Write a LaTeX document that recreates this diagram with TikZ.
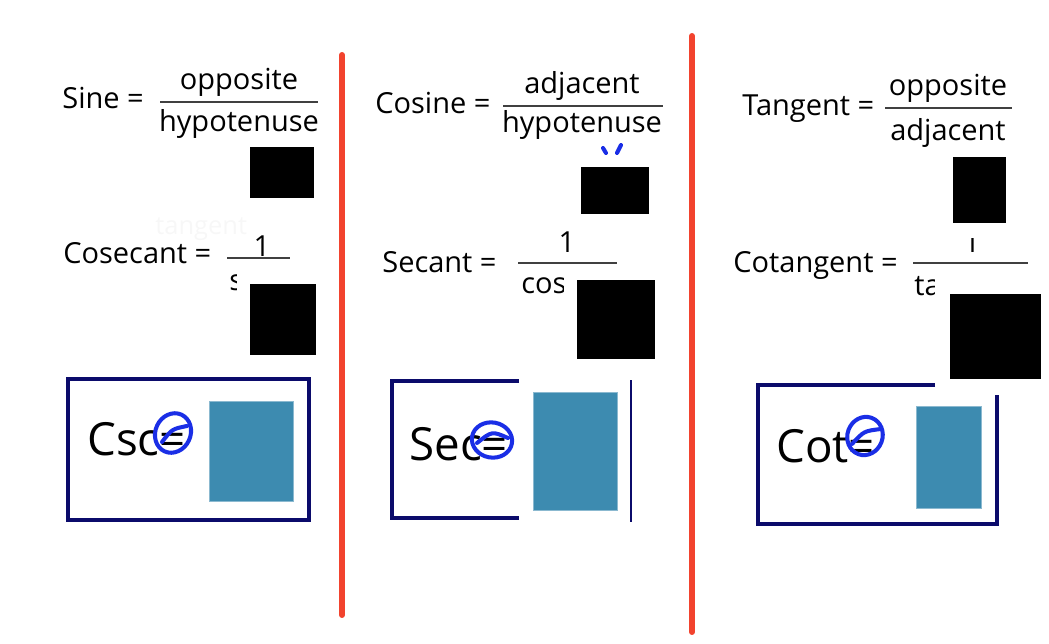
\documentclass[tikz,border=0pt]{standalone}
\usepackage{fontspec}
\setmainfont{Open Sans}
\usetikzlibrary{positioning}
\definecolor{divred}{HTML}{F2432E}
\definecolor{boxnavy}{HTML}{0B0B6B}
\definecolor{tileteal}{HTML}{3D8BB0}
\definecolor{penblue}{HTML}{1A2EE6}
\tikzset{
  ratio/.style={inner sep=0pt,font=\fontsize{16.5}{18}\selectfont},
  shortname/.style={inner sep=0pt,anchor=base west,font=\fontsize{26}{28}\selectfont},
  cover/.style={fill=black},
  tile/.style={fill=tileteal,draw=tileteal!60!white,line width=0.5pt},
  frame/.style={draw=boxnavy,line width=2.1pt},
  divider/.style={draw=divred,line width=3.4pt,line cap=round},
  theta/.style={draw=penblue,line width=2.3pt,line cap=round},
  bar/.style={line width=0.8pt,draw=black!75}
}

\begin{document}
\begin{tikzpicture}[x=0.02cm,y=-0.02cm]
\useasboundingbox (0,0) rectangle (1049,643);

% dividers
\draw[divider] (342,55) -- (342,615);
\draw[divider] (692,36) -- (692,632);

% sine / cosecant
\node[inner sep=0pt,anchor=base west,text=black!3,font=\fontsize{14.5}{16}\selectfont] (ghost) at (155,234) {tangent};
\node[ratio,anchor=base west] (sine) at (62,108) {Sine =};
\node[ratio,anchor=base] (sinetop) at (239,89) {opposite};
\node[ratio,anchor=base] (sinebot) at (239,131) {hypotenuse};
\draw[bar] (160,102) -- (318,102);
\node[ratio,anchor=base west] (cosec) at (63,263) {Cosecant =};
\draw[bar] (227,258) -- (290,258);
\node[ratio,anchor=base] (cosectop) at (262,256) {1};
\begin{scope}
  \clip (220,268) rectangle (236,298);
  \node[ratio,anchor=base west] (cosecbot) at (229,290) {sine};
\end{scope}
\fill[cover] (250,147) rectangle (314,198);
\fill[cover] (250,284) rectangle (316,355);

% cosine / secant
\node[ratio,anchor=base west] (cosine) at (375,113) {Cosine =};
\node[ratio,anchor=base] (cosinetop) at (582,93) {adjacent};
\node[ratio,anchor=base] (cosinebot) at (582,132) {hypotenuse};
\draw[bar] (503,106) -- (663,106);
\draw[theta] (603,148) -- (606,153);
\draw[theta] (621,145) -- (617,153);
\node[ratio,anchor=base west] (secant) at (382,272) {Secant =};
\draw[bar] (518,263) -- (617,263);
\node[ratio,anchor=base] (secanttop) at (567,252) {1};
\begin{scope}
  \clip (515,275) rectangle (563,300);
  \node[ratio,anchor=base west] (secantbot) at (521,293) {cosine};
\end{scope}
\fill[cover] (581,167) rectangle (649,214);
\fill[cover] (577,280) rectangle (655,359);

% tangent / cotangent
\node[ratio,anchor=base west] (tangent) at (742,115) {Tangent =};
\node[ratio,anchor=base] (tangenttop) at (948,95) {opposite};
\node[ratio,anchor=base] (tangentbot) at (948,140) {adjacent};
\draw[bar] (885,108) -- (1012,108);
\node[ratio,anchor=base west] (cotan) at (733,272) {Cotangent =};
\draw[bar] (913,263) -- (1028,263);
\begin{scope}
  \clip (955,238) rectangle (990,262);
  \node[ratio,anchor=base] (cotantop) at (972,252) {1};
\end{scope}
\begin{scope}
  \clip (905,272) rectangle (934,300);
  \node[ratio,anchor=base west] (cotanbot) at (914,295) {tangent};
\end{scope}
\fill[cover] (953,157) rectangle (1006,223);
\fill[cover] (950,294) rectangle (1041,379);

% answer boxes
\draw[frame] (68,379) rectangle (309,520);
\fill[tile] (209,401) rectangle (293,501);
\node[shortname] (csc) at (87,455) {Csc=};
\draw[theta] (173,433) ellipse [x radius=10pt, y radius=11.5pt, rotate=-25];
\draw[theta] (162,442) .. controls (172,429) .. (187,426);

\draw[frame] (519,381) -- (392,381) -- (392,518) -- (519,518);
\draw[boxnavy,line width=0.9pt] (631,380) -- (631,522);
\fill[tile] (533,392) rectangle (617,510);
\node[shortname] (sec) at (409,460) {Sec=};
\draw[theta] (492,440) ellipse [x radius=11.5pt, y radius=10pt, rotate=-10];
\draw[theta] (477,443) .. controls (492,431) .. (508,438);

\draw[frame] (935,385) -- (758,385) -- (758,524) -- (997,524) -- (997,395);
\fill[tile] (916,406) rectangle (981,508);
\node[shortname] (cot) at (776,462) {Cot=};
\draw[theta] (865,436) ellipse [x radius=10pt, y radius=11pt, rotate=-20];
\draw[theta] (852,444) .. controls (864,431) .. (881,429);
\end{tikzpicture}
\end{document}
